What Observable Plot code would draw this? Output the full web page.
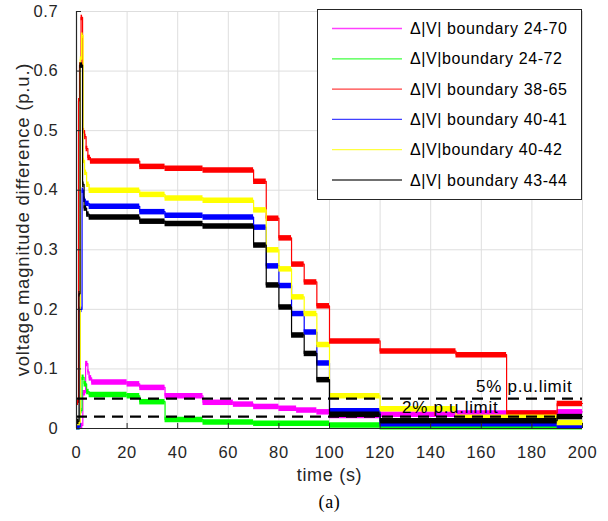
<!DOCTYPE html>
<html><head><meta charset="utf-8">
<script src="https://cdn.jsdelivr.net/npm/d3@7"></script>
<script src="https://cdn.jsdelivr.net/npm/@observablehq/plot@0.6"></script>
<style>
html,body{margin:0;padding:0;background:#fff;}
svg text{letter-spacing:0.7px;}
</style></head><body><div id="chart"></div>
<script>
// ---- data (time s, voltage magnitude difference p.u.) breakpoints, held until next time
const seriesNames = ["Δ|V| boundary 24-70","Δ|V|boundary 24-72","Δ|V| boundary 38-65","Δ|V| boundary 40-41","Δ|V|boundary 40-42","Δ|V| boundary 43-44"];
const seriesColors = ["#ff00ff","#00ff00","#ff0000","#0000ff","#ffff00","#000000"];
const s24_70 = [[0,0.005],[2.5,0.06],[3.6,0.109],[4.5,0.095],[5,0.085],[6,0.078],[20,0.075],[25,0.069],[35,0.055],[50,0.044],[62,0.041],[70,0.037],[80,0.034],[87,0.031],[95,0.028],[100,0.022],[120,0.024],[150,0.026],[190,0.028],[200,0.028]];
const s24_72 = [[0,0.003],[1.5,0.03],[2.2,0.086],[3,0.075],[4,0.062],[5,0.057],[20,0.055],[25,0.045],[35,0.015],[50,0.011],[70,0.009],[100,0.006],[120,0.003],[200,0.003]];
const s38_65 = [[0,0.044],[0.8,0.55],[1.2,0.61],[1.8,0.69],[2.4,0.5],[3.2,0.49],[3.8,0.47],[4.5,0.455],[5.5,0.449],[25,0.44],[35,0.437],[50,0.434],[70,0.415],[75,0.353],[80,0.32],[85,0.276],[90,0.246],[95,0.206],[100,0.147],[120,0.13],[150,0.124],[170,0.026],[190,0.042],[200,0.042]];
const s40_41 = [[0,0.003],[1.4,0.2],[2.2,0.4],[2.8,0.385],[3.5,0.378],[5,0.373],[25,0.364],[35,0.358],[50,0.355],[70,0.338],[75,0.273],[80,0.24],[85,0.193],[90,0.162],[95,0.11],[100,0.03],[120,0.008],[190,0.004],[200,0.004]];
const s40_42 = [[0,0.01],[1.5,0.62],[2.0,0.66],[2.6,0.45],[3.2,0.43],[4,0.41],[5,0.40],[25,0.393],[35,0.387],[50,0.383],[70,0.367],[75,0.30],[80,0.268],[85,0.221],[90,0.193],[95,0.141],[100,0.055],[120,0.033],[150,0.019],[190,0.01],[200,0.01]];
const s43_44 = [[0,0.012],[1.0,0.226],[1.4,0.61],[2.4,0.41],[3,0.37],[4,0.36],[5,0.355],[25,0.348],[35,0.344],[50,0.34],[70,0.308],[75,0.241],[80,0.204],[85,0.157],[90,0.126],[95,0.082],[100,0.024],[120,0.013],[190,0.02],[200,0.02]];
const seriesData = [s24_70, s24_72, s38_65, s40_41, s40_42, s43_44];
const limits = [0.05, 0.02];
const limitLabels = [{x:196, y:0.071, text:"5% p.u.limit"}, {x:128.7, y:0.036, text:"2% p.u.limit"}];
const xTicks = [0,20,40,60,80,100,120,140,160,180,200];
const yTicks = [0,0.1,0.2,0.3,0.4,0.5,0.6,0.7];
const xLabel = "time (s)";
const yLabel = "voltage magnitude difference (p.u.)";
const caption = "(a)";

const ink = "#262626";
const seriesMarks = [];
seriesData.forEach((pts, i) => {
  const segs = pts.slice(0, -1).map((p, j) => ({x1: p[0], x2: pts[j+1][0], y: p[1]}));
  seriesMarks.push(Plot.line(pts, {x: d => d[0], y: d => d[1], curve: "step-after", stroke: seriesColors[i], strokeWidth: 1.2}));
  seriesMarks.push(Plot.ruleY(segs, {x1: "x1", x2: "x2", y: "y", stroke: seriesColors[i], strokeWidth: 5.5}));
});

const chart = Plot.plot({
  width: 608, height: 521,
  marginTop: 11, marginBottom: 93, marginLeft: 76, marginRight: 26,
  x: {domain: [0, 200]},
  y: {domain: [0, 0.7]},
  style: {fontFamily: "'Liberation Sans', Arial, sans-serif", fontSize: "16px", color: ink, background: "#fff"},
  marks: [
    Plot.gridX(xTicks, {stroke: "#dedede", strokeOpacity: 1}),
    Plot.gridY(yTicks, {stroke: "#dedede", strokeOpacity: 1}),
    ...seriesMarks,
    Plot.ruleY(limits, {stroke: "#000", strokeWidth: 2.3, strokeDasharray: "11,7"}),
    Plot.text([limitLabels[0]], {x: "x", y: "y", text: "text", textAnchor: "end", fontSize: 17, fill: "#000"}),
    Plot.text([limitLabels[1]], {x: "x", y: "y", text: "text", textAnchor: "start", fontSize: 17, fill: "#000"}),
    Plot.ruleX([0], {stroke: ink, strokeWidth: 1.2}),
    Plot.ruleY([0], {stroke: ink, strokeWidth: 1.2}),
    Plot.axisX(xTicks, {tickSize: -5, tickPadding: 23, fontSize: 16.5, label: null, stroke: ink}),
    Plot.axisY(yTicks, {tickSize: -5, tickPadding: 23, fontSize: 16.5, label: null, stroke: ink, tickFormat: d => String(d)}),
    Plot.text([xLabel], {frameAnchor: "bottom", dy: 52, fontSize: 18, fill: ink}),
    Plot.text([caption], {frameAnchor: "bottom", dy: 79, fontSize: 18, fill: "#000", fontFamily: "'Liberation Serif', 'Times New Roman', serif"})
  ]
});
document.getElementById("chart").appendChild(chart);

const svg = d3.select(chart);
// y-axis title, rotated, centred on the plot frame
svg.append("text").attr("transform", "translate(23,219.5) rotate(-90)")
  .attr("text-anchor", "middle").attr("dy", "0.35em").attr("font-size", 18.5)
  .attr("fill", ink).style("letter-spacing", "0.8px").text(yLabel);

// legend box (top-right, inside the axes)
const lg = svg.append("g").attr("class", "legend").attr("text-anchor", "start");
lg.append("rect").attr("x", 317.5).attr("y", 9.5).attr("width", 264).attr("height", 190)
  .attr("fill", "#fff").attr("stroke", ink).attr("stroke-width", 1);
seriesNames.forEach((name, i) => {
  const y = 28.5 + i * 30.3;
  lg.append("line").attr("x1", 332).attr("x2", 402).attr("y1", y).attr("y2", y)
    .attr("stroke", seriesColors[i]).attr("stroke-width", 1.3).attr("stroke-opacity", 0.75);
  lg.append("text").attr("x", 410).attr("y", y).attr("dy", "0.35em").attr("text-anchor", "start")
    .attr("font-size", 16).attr("fill", "#000").style("letter-spacing", "0.6px").text(name);
});
</script></body></html>
